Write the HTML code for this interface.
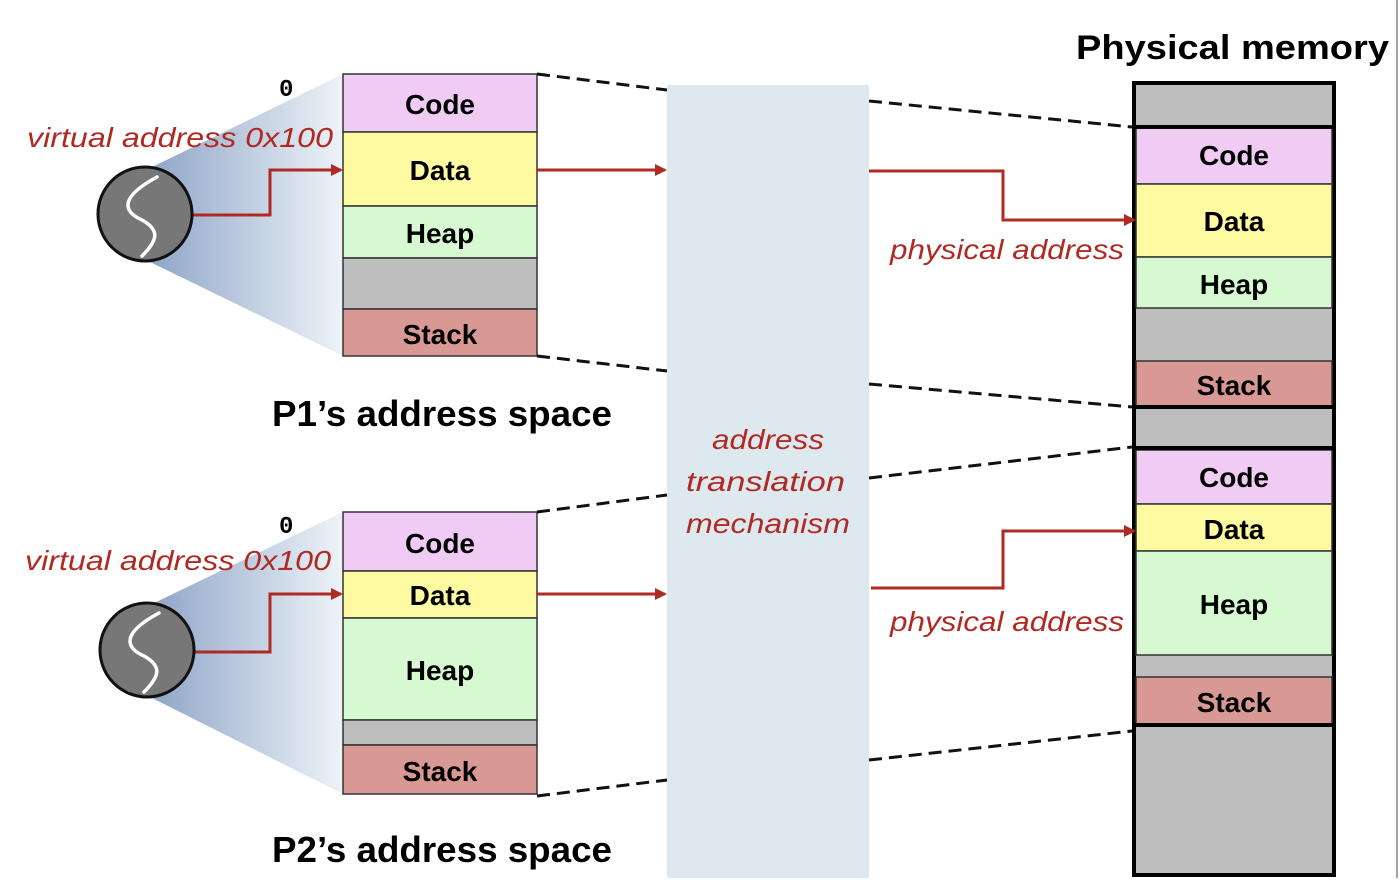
<!DOCTYPE html>
<html><head><meta charset="utf-8"><style>
html,body{margin:0;padding:0;background:#fff}
svg{display:block}
text{font-family:"Liberation Sans",sans-serif}
.b{font-weight:bold;font-size:28px;text-anchor:middle}
.r{fill:#b02a24;font-style:italic;font-size:28px}
</style></head><body>
<svg width="1400" height="890" viewBox="0 0 1400 890" xmlns="http://www.w3.org/2000/svg">
<defs>
<linearGradient id="g" x1="0" y1="0" x2="1" y2="0">
<stop offset="0" stop-color="#8fa6c8"/><stop offset="1" stop-color="#eef3f8"/>
</linearGradient>
<marker id="ah" markerWidth="12" markerHeight="12" refX="10" refY="6" orient="auto" markerUnits="userSpaceOnUse">
<path d="M0,0 L12,6 L0,12 z" fill="#b02a24"/></marker>
</defs>
<line x1="1397" y1="0" x2="1397" y2="878" stroke="#444" stroke-width="1"/>
<rect x="667" y="85" width="202" height="793" fill="#dde9ef"/>
<text class="r" x="712" y="449" textLength="112" lengthAdjust="spacingAndGlyphs">address</text>
<text class="r" x="686" y="491" textLength="159" lengthAdjust="spacingAndGlyphs">translation</text>
<text class="r" x="686" y="533" textLength="164" lengthAdjust="spacingAndGlyphs">mechanism</text>

<polygon points="150,168 343,74 343,356 150,262" fill="url(#g)"/>
<polygon points="152,604 343,512 343,794 152,698" fill="url(#g)"/>

<g stroke="#333" stroke-width="1.5">
<rect x="343" y="74" width="194" height="58" fill="#f0ccf5"/>
<rect x="343" y="132" width="194" height="74" fill="#fdfaa2"/>
<rect x="343" y="206" width="194" height="52" fill="#d6f9d2"/>
<rect x="343" y="258" width="194" height="51" fill="#bebebe"/>
<rect x="343" y="309" width="194" height="47" fill="#d89893"/>
</g>
<text class="b" x="440" y="114">Code</text>
<text class="b" x="440" y="180">Data</text>
<text class="b" x="440" y="243">Heap</text>
<text class="b" x="440" y="344">Stack</text>

<g stroke="#333" stroke-width="1.5">
<rect x="343" y="512" width="194" height="59" fill="#f0ccf5"/>
<rect x="343" y="571" width="194" height="47" fill="#fdfaa2"/>
<rect x="343" y="618" width="194" height="102" fill="#d6f9d2"/>
<rect x="343" y="720" width="194" height="25" fill="#bebebe"/>
<rect x="343" y="745" width="194" height="49" fill="#d89893"/>
</g>
<text class="b" x="440" y="553">Code</text>
<text class="b" x="440" y="605">Data</text>
<text class="b" x="440" y="680">Heap</text>
<text class="b" x="440" y="781">Stack</text>

<rect x="1134" y="83" width="200" height="792" fill="#bebebe" stroke="#000" stroke-width="4"/>
<g stroke="#333" stroke-width="1.5">
<rect x="1136" y="128" width="196" height="56" fill="#f0ccf5"/>
<rect x="1136" y="184" width="196" height="73" fill="#fdfaa2"/>
<rect x="1136" y="257" width="196" height="51" fill="#d6f9d2"/>
<rect x="1136" y="361" width="196" height="45" fill="#d89893"/>
<rect x="1136" y="450" width="196" height="54" fill="#f0ccf5"/>
<rect x="1136" y="504" width="196" height="47" fill="#fdfaa2"/>
<rect x="1136" y="551" width="196" height="104" fill="#d6f9d2"/>
<rect x="1136" y="677" width="196" height="47" fill="#d89893"/>
</g>
<g stroke="#000" stroke-width="4">
<line x1="1134" y1="127" x2="1334" y2="127"/>
<line x1="1134" y1="407" x2="1334" y2="407"/>
<line x1="1134" y1="448" x2="1334" y2="448"/>
<line x1="1134" y1="725" x2="1334" y2="725"/>
</g>
<text class="b" x="1234" y="165">Code</text>
<text class="b" x="1234" y="231">Data</text>
<text class="b" x="1234" y="294">Heap</text>
<text class="b" x="1234" y="395">Stack</text>
<text class="b" x="1234" y="487">Code</text>
<text class="b" x="1234" y="539">Data</text>
<text class="b" x="1234" y="614">Heap</text>
<text class="b" x="1234" y="712">Stack</text>

<g stroke="#111" stroke-width="3" stroke-dasharray="13,7" fill="none">
<line x1="537" y1="74" x2="667" y2="90"/>
<line x1="537" y1="356" x2="667" y2="371"/>
<line x1="537" y1="512" x2="667" y2="495"/>
<line x1="537" y1="796" x2="667" y2="780"/>
<line x1="869" y1="101" x2="1132" y2="127"/>
<line x1="869" y1="384" x2="1132" y2="407"/>
<line x1="869" y1="478" x2="1132" y2="447"/>
<line x1="869" y1="760" x2="1132" y2="731"/>
</g>

<g stroke="#b02a24" stroke-width="3" fill="none" marker-end="url(#ah)">
<polyline points="192,215 270,215 270,170 341,170"/>
<line x1="537" y1="170" x2="665" y2="170"/>
<polyline points="869,171 1003,171 1003,220 1134,220"/>
<polyline points="194,652 270,652 270,594 341,594"/>
<line x1="537" y1="594" x2="665" y2="594"/>
<polyline points="871,588 1003,588 1003,531 1134,531"/>
</g>

<circle cx="145" cy="214" r="47" fill="#777" stroke="#111" stroke-width="3"/>
<path d="M157,177 C118,198 124,212 142,220 C160,230 158,240 142,256" stroke="#fff" stroke-width="3.5" fill="none" stroke-linecap="round"/>
<circle cx="147" cy="650" r="47" fill="#777" stroke="#111" stroke-width="3"/>
<path d="M159,613 C120,634 126,648 144,656 C162,666 160,676 144,692" stroke="#fff" stroke-width="3.5" fill="none" stroke-linecap="round"/>

<text x="279" y="96" style="font-family:'Liberation Mono',monospace;font-weight:bold;font-size:24px">0</text>
<text x="279" y="533" style="font-family:'Liberation Mono',monospace;font-weight:bold;font-size:24px">0</text>
<text class="r" x="27" y="147" textLength="306" lengthAdjust="spacingAndGlyphs">virtual address 0x100</text>
<text class="r" x="25" y="570" textLength="306" lengthAdjust="spacingAndGlyphs">virtual address 0x100</text>
<text class="r" x="890" y="259" textLength="234" lengthAdjust="spacingAndGlyphs">physical address</text>
<text class="r" x="890" y="631" textLength="234" lengthAdjust="spacingAndGlyphs">physical address</text>
<text x="272" y="426" font-weight="bold" font-size="36" textLength="340" lengthAdjust="spacingAndGlyphs">P1’s address space</text>
<text x="272" y="862" font-weight="bold" font-size="36" textLength="340" lengthAdjust="spacingAndGlyphs">P2’s address space</text>
<text x="1076" y="59" font-weight="bold" font-size="34" textLength="313" lengthAdjust="spacingAndGlyphs">Physical memory</text>
</svg>
</body></html>
